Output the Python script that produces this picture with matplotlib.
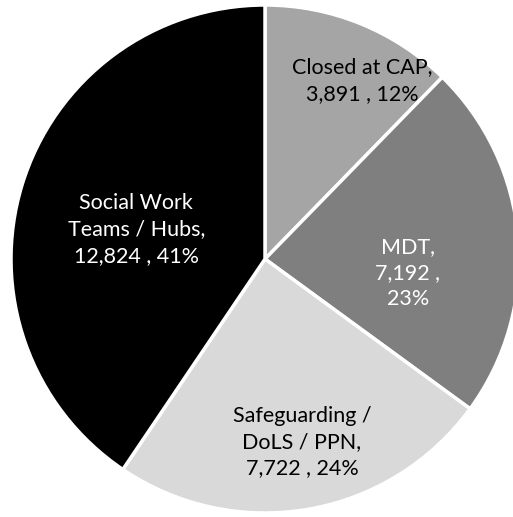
import numpy as np
import matplotlib
matplotlib.use("Agg")
import matplotlib.pyplot as plt

# data
categories = ["Closed at CAP", "MDT", "Safeguarding /\nDoLS / PPN", "Social Work\nTeams / Hubs"]
values = [3891, 7192, 7722, 12824]
percents = ["12%", "23%", "24%", "41%"]
label_text = [
    "Closed at CAP,\n3,891 , 12%",
    "MDT,\n7,192 ,\n23%",
    "Safeguarding /\nDoLS / PPN,\n7,722 , 24%",
    "Social Work\nTeams / Hubs,\n12,824 , 41%",
]

colors = ["#a5a5a5", "#7f7f7f", "#d9d9d9", "#000000"]
text_colors = ["black", "white", "black", "white"]
# radial distance and angle nudge for each label
label_dist = [0.80, 0.565, 0.735, 0.52]
label_nudge = [-6.5, -10.4, 1.5, 4.0]

W, H = 513, 517
cx, cy, r = 265, 259, 254

plt.rcParams["font.family"] = ["Lato", "DejaVu Sans"]

fig = plt.figure(figsize=(W / 100, H / 100), dpi=100)
ax = fig.add_axes([0, 0, 1, 1])
ax.axis("off")

wedges, _ = ax.pie(values, colors=colors, startangle=90, counterclock=False,
                   radius=1.0, wedgeprops=dict(edgecolor="white", linewidth=2.5))
ax.set_xlim(-cx / r, (W - cx) / r)
ax.set_ylim(-(H - cy) / r, cy / r)
ax.set_aspect("auto")

for w, txt, tc, d, nd in zip(wedges, label_text, text_colors, label_dist, label_nudge):
    ang = np.deg2rad((w.theta1 + w.theta2) / 2 + nd)
    ax.text(d * np.cos(ang), d * np.sin(ang), txt, ha="center", va="center",
            color=tc, fontsize=15.5, linespacing=1.4)

fig.savefig("out.png", dpi=100)
